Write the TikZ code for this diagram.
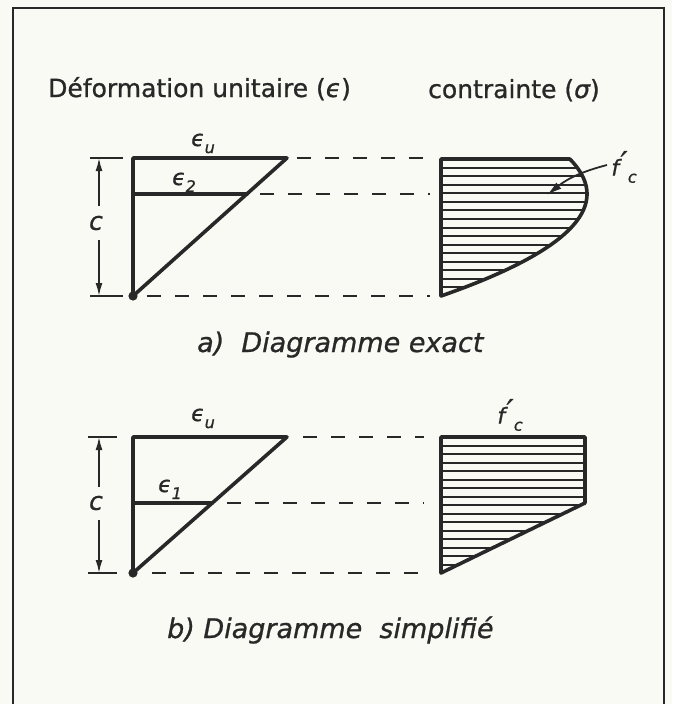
\documentclass[tikz,border=0pt]{standalone}
\usepackage{fontspec}
\setmainfont{DejaVu Sans}[ItalicFont={DejaVu Sans Oblique},BoldFont={DejaVu Sans Bold},FakeBold=1.2]
\newfontfamily\heavy{DejaVu Sans}[ItalicFont={DejaVu Sans Oblique},FakeBold=0.9,ItalicFeatures={FakeBold=0.9}]
\usetikzlibrary{arrows.meta}
\definecolor{ink}{RGB}{40,40,40}
\definecolor{paper}{RGB}{250,250,245}
\newcommand\lsub[1]{\raisebox{-0.32em}{\fontsize{16}{16}\selectfont #1}}
\newcommand\fcprime{f\kern1.5pt\raisebox{0.12em}{\fontsize{30}{30}\selectfont ′}\kern0.5pt\lsub{c}}
\begin{document}
\begin{tikzpicture}[x=1pt,y=-1pt,
  bold/.style={line width=3.6pt, line join=round, line cap=round, draw=ink},
  dsh/.style={line width=2.4pt, draw=ink, dash pattern=on 14pt off 14pt},
  hatch/.style={line width=2pt, draw=ink},
  dim/.style={line width=1.6pt, draw=ink},
  tck/.style={line width=1.8pt, draw=ink},
  lab/.style={font=\heavy\fontsize{22}{26}\selectfont\itshape, text=ink, inner sep=0pt},
  elab/.style={lab, anchor=base},
  ttl/.style={font=\heavy\fontsize{25}{30}\selectfont, text=ink, inner sep=0pt, anchor=base west},
  capt/.style={font=\heavy\fontsize{27}{32}\selectfont\itshape, text=ink, inner sep=0pt, anchor=base west},
  arr/.style={-{Latex[length=13pt,width=7pt]}},
]
\fill[paper] (0,0) rectangle (672,704);
\useasboundingbox (0,0) rectangle (672,704);
% frame (open at bottom)
\coordinate (fbl) at (13,704);
\coordinate (ftl) at (13,8);
\coordinate (ftr) at (664,8);
\coordinate (fbr) at (664,704);
\draw[line width=1.6pt, draw=ink] (fbl) -- (ftl) -- (ftr) -- (fbr);

% titles
\node[ttl] (t1) at (48,97) {Déformation unitaire ({\itshape ϵ})};
\node[ttl] (t2) at (428,98) {contrainte ({\itshape σ})};

% ===== diagram a =====
\coordinate (Abot) at (133,296);
\coordinate (Atop) at (133,158);
\coordinate (Atr) at (287,158);
\coordinate (Ae2l) at (133,194);
\coordinate (Ae2r) at (247,194);
\draw[bold] (Atr) -- (Atop) -- (Abot) -- cycle;
\draw[bold] (Ae2l) -- (Ae2r);
\fill[ink] (Abot) circle (4.6pt);
\node[elab] (euA) at (203,146) {ϵ\lsub{u}};
\node[elab] (e2A) at (184,185) {ϵ\lsub{2}};

% dimension a
\coordinate (dAt1) at (90,158); \coordinate (dAt2) at (123,158);
\coordinate (dAb1) at (90,296); \coordinate (dAb2) at (123,296);
\draw[tck] (dAt1) -- (dAt2);
\draw[tck] (dAb1) -- (dAb2);
\coordinate (dAtop) at (99,158); \coordinate (dAg1) at (99,206);
\coordinate (dAbot) at (99,296); \coordinate (dAg2) at (99,240);
\draw[dim,arr] (dAg1) -- (dAtop);
\draw[dim,arr] (dAg2) -- (dAbot);
\node[lab, font=\heavy\fontsize{25}{26}\selectfont\itshape] (cA) at (96,223) {c};

% dashed a
\coordinate (dA1s) at (297,158); \coordinate (dA1e) at (430,158);
\coordinate (dA2s) at (260,194); \coordinate (dA2e) at (430,194);
\coordinate (dA3s) at (147,296); \coordinate (dA3e) at (430,296);
\draw[dsh] (dA1s) -- (dA1e);
\draw[dsh] (dA2s) -- (dA2e);
\draw[dsh] (dA3s) -- (dA3e);

% stress block a
\begin{scope}
\clip (441,159) -- plot[domain=1.343:0, samples=50, smooth, variable=\t] ({441+146*(2*\t-\t*\t)}, {296-102*\t}) -- cycle;
\foreach \k in {1,...,15} \draw[hatch] (441,{159+\k*8.5625}) -- (600,{159+\k*8.5625});
\end{scope}
\draw[bold] (441,296) -- (441,159) -- plot[domain=1.343:0, samples=50, smooth, variable=\t] ({441+146*(2*\t-\t*\t)}, {296-102*\t});
\node[lab] (fcA) at (624,167) {\fcprime};
\coordinate (lead) at (607,165);
\coordinate (arrA) at (547,195);
\draw[dim, line width=1.8pt, -{Latex[length=15pt,width=8pt]}] (lead) to[bend right=12] (arrA);

\node[capt] (capA) at (197,352) {a)\ \ Diagramme exact};

% ===== diagram b =====
\coordinate (Bbot) at (133,573);
\coordinate (Btop) at (133,437);
\coordinate (Btr) at (287,437);
\coordinate (Be1l) at (133,503);
\coordinate (Be1r) at (212,503);
\draw[bold] (Btr) -- (Btop) -- (Bbot) -- cycle;
\draw[bold] (Be1l) -- (Be1r);
\fill[ink] (Bbot) circle (4.6pt);
\node[elab] (euB) at (203,421) {ϵ\lsub{u}};
\node[elab] (e1B) at (170,492) {ϵ\lsub{1}};

% dimension b
\coordinate (dBt1) at (88,437); \coordinate (dBt2) at (117,437);
\coordinate (dBb1) at (88,573); \coordinate (dBb2) at (117,573);
\draw[tck] (dBt1) -- (dBt2);
\draw[tck] (dBb1) -- (dBb2);
\coordinate (dBtop) at (99,437); \coordinate (dBg1) at (99,487);
\coordinate (dBbot) at (99,573); \coordinate (dBg2) at (99,520);
\draw[dim,arr] (dBg1) -- (dBtop);
\draw[dim,arr] (dBg2) -- (dBbot);
\node[lab, font=\heavy\fontsize{25}{26}\selectfont\itshape] (cB) at (96,503) {c};

% dashed b
\coordinate (dB1s) at (303,437); \coordinate (dB1e) at (424,437);
\coordinate (dB2s) at (227,503); \coordinate (dB2e) at (424,503);
\coordinate (dB3s) at (152,573); \coordinate (dB3e) at (424,573);
\draw[dsh] (dB1s) -- (dB1e);
\draw[dsh] (dB2s) -- (dB2e);
\draw[dsh] (dB3s) -- (dB3e);

% stress block b
\coordinate (Sb1) at (441,437);
\coordinate (Sb2) at (585,437);
\coordinate (Sb3) at (585,503);
\coordinate (Sb4) at (441,573);
\begin{scope}
\clip (Sb1) -- (Sb2) -- (Sb3) -- (Sb4) -- cycle;
\foreach \k in {1,...,15} \draw[hatch] (441,{437+\k*8.5}) -- (590,{437+\k*8.5});
\end{scope}
\draw[bold] (Sb1) -- (Sb2) -- (Sb3) -- (Sb4) -- cycle;
\node[lab] (fcB) at (510,415) {\fcprime};

\node[capt] (capB) at (167,638) {b) Diagramme\ \ simplifié};
\end{tikzpicture}
\end{document}
